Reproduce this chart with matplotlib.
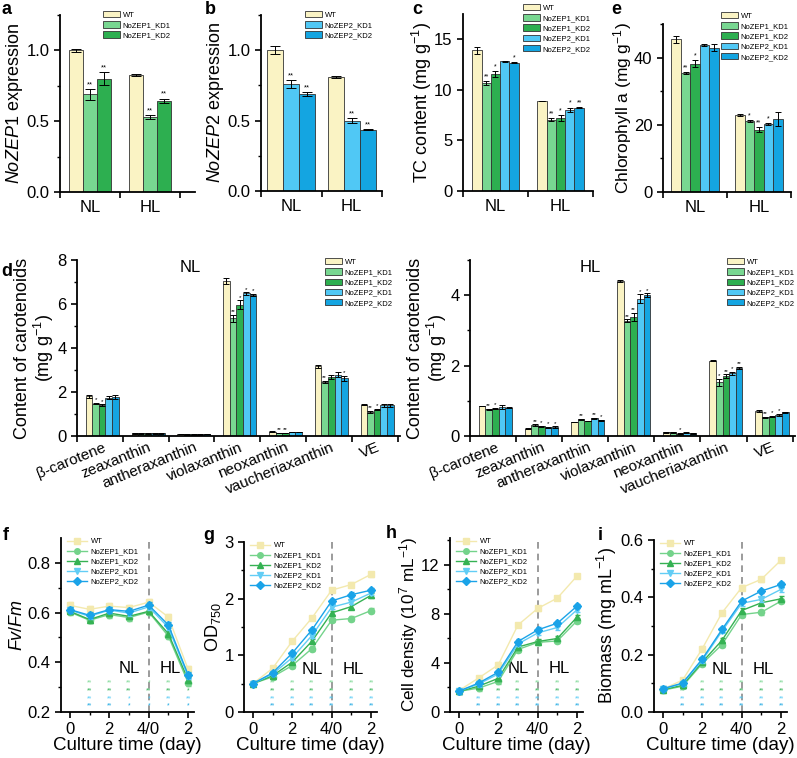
import matplotlib
matplotlib.use('Agg')
from matplotlib import pyplot as pl
from matplotlib.patches import Patch
from matplotlib.lines import Line2D
import matplotlib.transforms as mtransforms
import numpy as np

pl.rcParams['font.family'] = ['Liberation Sans', 'DejaVu Sans']
pl.rcParams['mathtext.fontset'] = 'custom'
pl.rcParams['mathtext.rm'] = 'Liberation Sans'
pl.rcParams['mathtext.it'] = 'Liberation Sans:italic'
pl.rcParams['axes.linewidth'] = 1.3

W, H = 797, 758

# strains and colours
strains = ['WT', 'NoZEP1_KD1', 'NoZEP1_KD2', 'NoZEP2_KD1', 'NoZEP2_KD2']
bar_colors = ['#FAF3C4', '#78D791', '#2DAF50', '#50C8F5', '#14A5E1']
line_colors = ['#F3E9AE', '#74D38B', '#35B253', '#62CDF5', '#1AA3E8']
markers = ['s', 'o', '^', 'v', 'D']
light = ['NL', 'HL']

# a: NoZEP1 expression (WT, KD1, KD2)
a_vals = [[1.00, 0.69, 0.80], [0.825, 0.53, 0.645]]
a_err = [[0.012, 0.04, 0.045], [0.006, 0.015, 0.015]]
a_star = [['', '**', '**'], ['', '**', '**']]

# b: NoZEP2 expression (WT, KD1, KD2)
b_vals = [[1.00, 0.76, 0.69], [0.81, 0.50, 0.435]]
b_err = [[0.03, 0.03, 0.015], [0.005, 0.015, 0.005]]
b_star = [['', '**', '**'], ['', '**', '**']]

# c: total carotenoid content
c_vals = [[13.9, 10.7, 11.6, 12.85, 12.7], [8.9, 7.05, 7.2, 8.05, 8.25]]
c_err = [[0.35, 0.2, 0.3, 0.05, 0.08], [0.03, 0.15, 0.3, 0.2, 0.05]]
c_star = [['', '**', '*', '', '*'], ['', '**', '*', '*', '**']]

# e: chlorophyll a
e_vals = [[45.4, 35.5, 38.2, 43.7, 42.9], [23.0, 21.1, 18.6, 20.2, 21.7]]
e_err = [[1.0, 0.3, 1.0, 0.3, 1.0], [0.3, 0.3, 0.7, 0.2, 2.0]]
e_star = [['', '**', '*', '', ''], ['', '*', '**', '*', '']]

# d: carotenoid composition
pigments = ['β-carotene', 'zeaxanthin', 'antheraxanthin', 'violaxanthin',
            'neoxanthin', 'vaucheriaxanthin', 'VE']
d_nl = [[1.80, 1.47, 1.40, 1.75, 1.78],
        [0.12, 0.12, 0.12, 0.12, 0.12],
        [0.08, 0.07, 0.07, 0.07, 0.10],
        [7.05, 5.35, 5.97, 6.48, 6.42],
        [0.20, 0.14, 0.14, 0.18, 0.18],
        [3.17, 2.45, 2.68, 2.79, 2.62],
        [1.43, 1.08, 1.20, 1.40, 1.40]]
d_nl_err = [[0.06, 0.03, 0.04, 0.06, 0.08],
            [0.01, 0.01, 0.01, 0.01, 0.01],
            [0.01, 0.01, 0.01, 0.01, 0.01],
            [0.15, 0.15, 0.2, 0.05, 0.05],
            [0.01, 0.01, 0.01, 0.01, 0.01],
            [0.06, 0.05, 0.1, 0.1, 0.1],
            [0.04, 0.05, 0.03, 0.06, 0.06]]
d_nl_star = [['', '*', '*', '', ''], ['', '', '', '', ''], ['', '', '', '', ''],
             ['', '**', '*', '*', '*'], ['', '**', '**', '', ''],
             ['', '**', '', '', '*'], ['', '**', '*', '', '']]
d_hl = [[0.85, 0.76, 0.78, 0.83, 0.80],
        [0.21, 0.31, 0.27, 0.24, 0.25],
        [0.40, 0.47, 0.43, 0.50, 0.45],
        [4.40, 3.28, 3.38, 3.90, 4.00],
        [0.10, 0.10, 0.07, 0.09, 0.08],
        [2.14, 1.52, 1.70, 1.78, 1.94],
        [0.71, 0.53, 0.55, 0.60, 0.67]]
d_hl_err = [[0.01, 0.02, 0.02, 0.05, 0.01],
            [0.01, 0.02, 0.02, 0.01, 0.02],
            [0.01, 0.02, 0.01, 0.02, 0.01],
            [0.03, 0.03, 0.12, 0.12, 0.05],
            [0.01, 0.01, 0.01, 0.01, 0.01],
            [0.01, 0.1, 0.05, 0.05, 0.03],
            [0.02, 0.01, 0.02, 0.02, 0.01]]
d_hl_star = [['', '**', '*', '', ''], ['', '**', '*', '*', '*'],
             ['', '**', '', '**', '*'], ['', '**', '**', '*', '*'],
             ['', '', '*', '', ''], ['', '*', '**', '*', '**'],
             ['', '**', '*', '*', '']]

# f-i: growth curves, days 0-4 under NL then 0-2 under HL
days = [0, 1, 2, 3, 4, 5, 6]
day_ticks = [0, 2, 4, 6]
day_labels = ['0', '2', '4/0', '2']
fvfm = [[0.629, 0.613, 0.626, 0.620, 0.642, 0.582, 0.372],
        [0.602, 0.569, 0.592, 0.580, 0.602, 0.505, 0.318],
        [0.605, 0.572, 0.598, 0.585, 0.605, 0.515, 0.330],
        [0.610, 0.585, 0.610, 0.598, 0.623, 0.540, 0.343],
        [0.612, 0.589, 0.612, 0.605, 0.630, 0.550, 0.350]]
od750 = [[0.50, 0.77, 1.25, 1.66, 2.15, 2.25, 2.43],
         [0.50, 0.62, 0.82, 1.12, 1.62, 1.65, 1.79],
         [0.50, 0.64, 0.88, 1.25, 1.75, 1.86, 2.06],
         [0.50, 0.67, 0.96, 1.35, 1.85, 1.94, 2.10],
         [0.50, 0.69, 1.04, 1.45, 1.96, 2.07, 2.15]]
density = [[1.75, 2.77, 3.85, 7.1, 8.45, 9.3, 11.1],
           [1.68, 1.95, 2.5, 5.1, 5.68, 5.8, 7.45],
           [1.68, 2.1, 2.75, 5.3, 5.75, 6.0, 7.75],
           [1.70, 2.28, 3.1, 5.55, 6.45, 6.9, 8.35],
           [1.70, 2.36, 3.25, 5.75, 6.7, 7.25, 8.65]]
biomass = [[0.080, 0.111, 0.221, 0.346, 0.434, 0.463, 0.530],
           [0.076, 0.090, 0.169, 0.235, 0.340, 0.348, 0.387],
           [0.078, 0.093, 0.174, 0.250, 0.354, 0.381, 0.395],
           [0.080, 0.099, 0.180, 0.282, 0.379, 0.393, 0.428],
           [0.081, 0.101, 0.185, 0.288, 0.387, 0.422, 0.445]]
f_star = [['**', '**', '**', '*', '**', '*'],
          ['**', '**', '**', '**', '**', '*'],
          ['**', '**', '*', '*', '**', '**'],
          ['**', '**', '*', '*', '*', '*']]
all_star = [['**'] * 6] * 4


def add_ax(l, t, r, b):
    return fig.add_axes([l / W, 1 - b / H, (r - l) / W, (b - t) / H])


def style(ax, fs=12):
    for s in ['top', 'right']:
        ax.spines[s].set_visible(False)
    ax.tick_params(direction='out', length=4, width=1.2, labelsize=fs)
    ax.tick_params(which='minor', length=2.5, width=1.0)


def bar_legend(ax, names, x, y):
    hs = [Patch(facecolor=bar_colors[strains.index(n)], edgecolor='#333333',
                linewidth=0.6) for n in names]
    ax.legend(hs, names, loc='upper left', bbox_to_anchor=(x / W, 1 - y / H),
              bbox_transform=fig.transFigure, frameon=False, fontsize=5.5,
              borderpad=0, borderaxespad=0, labelspacing=0.32,
              handlelength=2.2, handleheight=0.9, handletextpad=0.4)


def grouped_bars(ax, vals, err, stars, idx, width, star_fs=5.5):
    n = len(idx)
    for g, (v, e, st) in enumerate(zip(vals, err, stars)):
        for k in range(n):
            x = g + (k - (n - 1) / 2) * width
            ax.bar(x, v[k], width, color=bar_colors[idx[k]],
                   edgecolor='#333333', linewidth=0.6, zorder=2)
            ax.errorbar(x, v[k], yerr=e[k], color='k', capsize=width * 14,
                        elinewidth=0.7, capthick=0.7, zorder=3)
            if st[k]:
                ax.annotate(st[k], (x, v[k] + e[k]), xytext=(0, 0.5),
                            textcoords='offset points', ha='center',
                            va='bottom', fontsize=star_fs)


def group_axis(ax, labels, lo, hi, fs=12):
    ax.set_xticks(range(len(labels)))
    ax.set_xticklabels(labels, fontsize=fs)
    ax.tick_params(axis='x', which='major', length=0, pad=6)
    ax.set_xticks(np.arange(lo, hi + 0.01, 1.0), minor=True)
    ax.tick_params(axis='x', which='minor', length=4, width=1.2)
    ax.set_xlim(lo, hi)


fig = pl.figure(figsize=(W / 100, H / 100), dpi=100)

# ---- a ----
ax = add_ax(60, 15, 195, 192)
style(ax)
grouped_bars(ax, a_vals, a_err, a_star, [0, 1, 2], 0.235)
group_axis(ax, light, -0.5, 1.5)
ax.set_xlim(-0.5, 1.75)
ax.set_ylim(0, 1.25)
ax.set_yticks([0, 0.5, 1.0])
ax.set_yticks([0.25, 0.75, 1.25], minor=True)
ax.set_ylabel(r'$\mathit{NoZEP1}$ expression', fontsize=13, labelpad=1)
bar_legend(ax, strains[:3], 103, 11)

# ---- b ----
ax = add_ax(261, 15, 382, 191)
style(ax)
grouped_bars(ax, b_vals, b_err, b_star, [0, 3, 4], 0.265)
group_axis(ax, light, -0.5, 1.5)
ax.set_ylim(0, 1.25)
ax.set_yticks([0, 0.5, 1.0])
ax.set_yticks([0.25, 0.75, 1.25], minor=True)
ax.set_ylabel(r'$\mathit{NoZEP2}$ expression', fontsize=13, labelpad=1)
bar_legend(ax, [strains[0], strains[3], strains[4]], 305, 11)

# ---- c ----
ax = add_ax(463, 14, 593, 191)
style(ax)
grouped_bars(ax, c_vals, c_err, c_star, [0, 1, 2, 3, 4], 0.143, 5)
group_axis(ax, light, -0.5, 1.5)
ax.set_ylim(0, 17.5)
ax.set_yticks([0, 5, 10, 15])
ax.set_ylabel(r'TC content (mg g$^{-1}$)', fontsize=13, labelpad=0)
bar_legend(ax, strains, 523, 4)

# ---- e ----
ax = add_ax(663, 24, 791, 192)
style(ax)
grouped_bars(ax, e_vals, e_err, e_star, [0, 1, 2, 3, 4], 0.147, 5)
group_axis(ax, light, -0.5, 1.5)
ax.set_ylim(0, 50)
ax.set_yticks([0, 20, 40])
ax.set_yticks([10, 30, 50], minor=True)
ax.set_ylabel(r'Chlorophyll a (mg g$^{-1}$)', fontsize=12.5, labelpad=0)
bar_legend(ax, strains, 721, 12)

# ---- d ----
for (l, r), vals, err, st, top, lab, lx in [
        ((77, 400), d_nl, d_nl_err, d_nl_star, 8, 'NL', 190),
        ((470, 795), d_hl, d_hl_err, d_hl_star, 5, 'HL', 590)]:
    ax = add_ax(l, 260, r, 436)
    style(ax)
    grouped_bars(ax, vals, err, st, [0, 1, 2, 3, 4], 0.144, 4.5)
    group_axis(ax, pigments, -0.55, 6.5, fs=11)
    for t in ax.get_xticklabels():
        t.set_rotation(22)
        t.set_ha('right')
        t.set_rotation_mode('anchor')
    ax.tick_params(axis='x', which='major', pad=3)
    ax.set_ylim(0, top)
    ax.set_yticks(np.arange(0, top + 0.1, 2))
    ax.set_yticks(np.arange(1, top + 0.1, 2), minor=True)
    ax.set_ylabel('Content of carotenoids\n(mg g$^{-1}$)', fontsize=13,
                  linespacing=1.05, labelpad=1)
    fig.text(lx / W, 1 - 268 / H, lab, fontsize=12, ha='center', va='center')
    bar_legend(ax, strains, l + 248 if lab == 'NL' else 727, 258)

# ---- f-i ----
panels = [
    ((61, 538, 194, 712), fvfm, (0.2, 0.9), [0.2, 0.4, 0.6, 0.8], [0.3, 0.5, 0.7],
     r'$\mathit{Fv/Fm}$', f_star, 0.012),
    ((244, 542, 377, 712), od750, (0, 3), [0, 1, 2, 3], [0.5, 1.5, 2.5],
     r'OD$_{750}$', all_star, 0.04),
    ((450, 538, 583, 712), density, (0, 14.2), [0, 4, 8, 12], [2, 6, 10, 14],
     r'Cell density (10$^{7}$ mL$^{-1}$)', all_star, 0.2),
    ((654, 540, 787, 712), biomass, (0, 0.6), [0, 0.2, 0.4, 0.6], [0.1, 0.3, 0.5],
     r'Biomass (mg mL$^{-1}$)', all_star, 0.008),
]
star_rows = [0.148, 0.103, 0.058, 0.013]
for (l, t, r, b), series, ylim, yt, ymt, ylab, stars, eb in panels:
    ax = add_ax(l, t, r, b)
    style(ax)
    for k, ys in enumerate(series):
        ax.errorbar(days, ys, yerr=eb, color=line_colors[k], marker=markers[k],
                    markersize=4.5 if markers[k] != 'D' else 4, linewidth=1.0,
                    elinewidth=0.8, capsize=1.8, zorder=3 + k,
                    label=strains[k])
    ax.axvline(4, color='#8a8a8a', linestyle=(0, (4, 3)), linewidth=1.2, zorder=1)
    ax.set_xlim(-0.45, 6.3)
    ax.set_xticks(day_ticks)
    ax.set_xticklabels(day_labels)
    ax.set_xticks([1, 3, 5], minor=True)
    ax.set_ylim(*ylim)
    ax.set_yticks(yt)
    ax.set_yticks(ymt, minor=True)
    ax.set_ylabel(ylab, fontsize=12.3 if 'Cell' in ylab else 13, labelpad=1)
    ax.set_xlabel('Culture time (day)', fontsize=13.5, labelpad=0)
    trans = mtransforms.blended_transform_factory(ax.transData, ax.transAxes)
    ax.text(3.0, 0.25, 'NL', transform=trans, fontsize=12, ha='center', va='center')
    ax.text(5.1, 0.25, 'HL', transform=trans, fontsize=12, ha='center', va='center')
    for row, (yf, sr) in enumerate(zip(star_rows, stars)):
        for xd, s in zip(days[1:], sr):
            ax.text(xd, yf, s, transform=trans, fontsize=4.8, ha='center',
                    va='bottom', color=bar_colors[row + 1])
    hs = [Line2D([], [], color=line_colors[k], marker=markers[k], markersize=4,
                 linewidth=1.0) for k in range(5)]
    ax.legend(hs, strains, loc='upper left', bbox_to_anchor=((l + 6) / W, 1 - t / H),
              bbox_transform=fig.transFigure, frameon=False, fontsize=5.5,
              borderpad=0, borderaxespad=0, labelspacing=0.35,
              handlelength=2.6, handletextpad=0.5)

# panel letters
for lab, x, y in [('a', 2, 10), ('b', 205, 10), ('c', 412, 10), ('e', 611, 10),
                  ('d', 1, 272), ('f', 3, 535), ('g', 203, 535), ('h', 386, 533),
                  ('i', 598, 535)]:
    fig.text(x / W, 1 - y / H, lab, fontsize=13, fontweight='bold',
             ha='left', va='center')

fig.savefig('out.png', dpi=100)
